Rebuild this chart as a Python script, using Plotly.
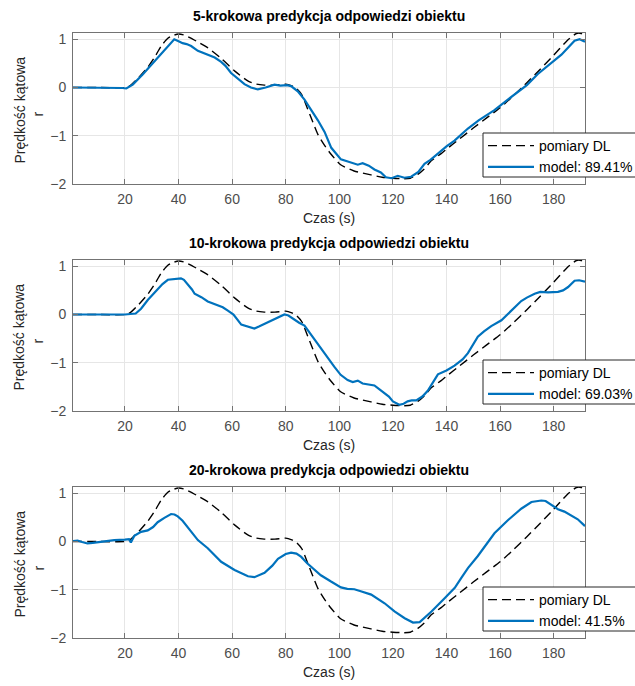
import plotly.graph_objects as go

# ---------------- data ----------------
t_meas = [0.6, 10, 20, 22, 25, 28.5, 31, 33.5, 36, 38, 40, 42, 44, 47, 51, 56, 61, 66, 69, 72, 76, 80, 82,
          84, 86, 88, 90, 92, 94.5, 97, 100.5, 105.5, 111.8, 116, 120, 124, 126.5, 129.3, 131.5, 134.3, 138,
          140, 145, 150, 155, 160, 165, 170, 175, 180, 185, 188.5, 190.3, 191.7]
y_meas = [0, 0, 0, 0.04, 0.2, 0.42, 0.62, 0.86, 1.02, 1.08, 1.11, 1.09, 1.04, 0.95, 0.82, 0.6, 0.34, 0.13,
          0.07, 0.05, 0.05, 0.07, 0.04, -0.02, -0.15, -0.42, -0.7, -0.97, -1.2, -1.39, -1.6, -1.73, -1.81,
          -1.86, -1.88, -1.89, -1.88, -1.8, -1.7, -1.52, -1.37, -1.28, -1.06, -0.84, -0.63, -0.42, -0.17,
          0.1, 0.38, 0.67, 0.97, 1.12, 1.12, 1.06]

t_m5 = [0.6, 10, 19, 20.5, 22.9, 26.6, 29.5, 32.2, 34.5, 36, 38.4, 40, 41.5, 43, 44.7, 47.2, 50.9, 53.5,
        55.9, 57.5, 59.6, 62, 64.6, 67, 69.6, 72.5, 75.8, 78, 80.5, 82, 84.5, 87, 89.5, 92, 94.5, 97, 100.6,
        103.1, 106.9, 108.7, 111, 113.1, 115.5, 117.4, 119.5, 121.8, 124.3, 126.8, 129.5, 131.8, 134, 136.8,
        140, 143, 148, 152, 154.2, 157.9, 162.9, 167.9, 170, 174.1, 179.1, 182.9, 187.8, 189.7, 191.7]
y_m5 = [0, 0, -0.01, -0.02, 0.06, 0.27, 0.45, 0.61, 0.75, 0.86, 1.0, 0.96, 0.92, 0.90, 0.86, 0.76, 0.68,
        0.62, 0.53, 0.45, 0.30, 0.18, 0.07, 0.0, -0.04, 0.0, 0.06, 0.04, 0.05, 0.03, -0.08, -0.25, -0.46,
        -0.68, -0.92, -1.25, -1.49, -1.53, -1.6, -1.57, -1.62, -1.7, -1.76, -1.86, -1.88, -1.83, -1.87,
        -1.85, -1.75, -1.58, -1.5, -1.37, -1.22, -1.1, -0.85, -0.68, -0.6, -0.47, -0.25, -0.04, 0.05, 0.28,
        0.5, 0.68, 0.97, 1.0, 0.95]

t_m10 = [0.6, 10, 20, 24, 26, 28.5, 30.5, 32.2, 34, 36, 38.4, 40.9, 42, 43.4, 45, 46, 48.5, 50.9, 52.5,
         54.6, 56.5, 58.4, 60.5, 63.4, 65, 68.3, 70, 73.3, 76, 79.5, 81, 83.3, 85, 87, 89.5, 92, 95, 98.1,
         100.5, 103.1, 105, 106.9, 108.7, 110.5, 113.1, 115, 116.8, 118.5, 120, 122.4, 124, 125.5, 127,
         128.7, 131, 133, 136.8, 140, 143, 146, 148, 150, 151.7, 154, 156.7, 160.5, 164.2, 167.9, 170,
         172.9, 175, 177.9, 181.6, 183.5, 185.4, 187.8, 189.5, 191.7]
y_m10 = [0, 0, 0, 0.02, 0.12, 0.3, 0.42, 0.54, 0.63, 0.72, 0.74, 0.75, 0.72, 0.63, 0.52, 0.43, 0.36, 0.27,
         0.24, 0.2, 0.15, 0.08, 0.0, -0.21, -0.24, -0.29, -0.25, -0.16, -0.08, 0.0, -0.02, -0.11, -0.17,
         -0.23, -0.42, -0.63, -0.85, -1.08, -1.25, -1.36, -1.4, -1.37, -1.43, -1.45, -1.47, -1.55, -1.63,
         -1.7, -1.8, -1.87, -1.85, -1.8, -1.78, -1.78, -1.7, -1.58, -1.24, -1.16, -1.06, -0.93, -0.8,
         -0.62, -0.46, -0.35, -0.24, -0.12, 0.08, 0.28, 0.35, 0.43, 0.47, 0.46, 0.47, 0.5, 0.57, 0.70, 0.71,
         0.68]

t_m20 = [0.6, 2.3, 4, 6, 8, 11, 16, 20, 21.5, 22.2, 23.5, 26, 28.5, 30.5, 32.2, 34.7, 37.2, 38.5, 39.7,
         41.5, 43.4, 45.5, 47.2, 50.9, 55.9, 60.9, 65.9, 68.3, 72.1, 75, 77.1, 80, 82, 84, 85.8, 88, 90.8,
         93.1, 96.9, 100.6, 103, 105.6, 108, 111.9, 116.9, 120.6, 124.4, 127.5, 130, 134.4, 139.4, 143.1,
         145.6, 148, 151.7, 155, 157.9, 162.9, 167.9, 171.7, 175.4, 177, 179.1, 181.6, 184, 186.6, 189,
         191.7]
y_m20 = [0.01, 0.02, -0.01, -0.04, -0.03, -0.01, 0.03, 0.04, 0.05, -0.02, 0.12, 0.2, 0.23, 0.3, 0.4, 0.49,
         0.57, 0.56, 0.52, 0.43, 0.3, 0.15, 0.03, -0.14, -0.42, -0.59, -0.72, -0.74, -0.65, -0.5, -0.36,
         -0.26, -0.23, -0.25, -0.32, -0.45, -0.59, -0.70, -0.83, -0.95, -0.98, -0.99, -1.03, -1.10, -1.28,
         -1.45, -1.59, -1.68, -1.67, -1.45, -1.17, -0.96, -0.75, -0.55, -0.3, -0.05, 0.17, 0.44, 0.68, 0.82,
         0.85, 0.84, 0.76, 0.67, 0.62, 0.54, 0.46, 0.32]

titles = ["5-krokowa predykcja odpowiedzi obiektu",
          "10-krokowa predykcja odpowiedzi obiektu",
          "20-krokowa predykcja odpowiedzi obiektu"]
fits = ["89.41%", "69.03%", "41.5%"]
x_ticks = [20, 40, 60, 80, 100, 120, 140, 160, 180]
y_ticks = [-2, -1, 0, 1]
x_label = "Czas (s)"
y_label_1 = "Prędkość kątowa"
y_label_2 = "r"
meas_name = "pomiary DL"

# ---------------- layout geometry (pixels) ----------------
W, H = 635, 686
L, R = 73, 585
panels_px = [(33, 184), (260, 411), (487, 638)]
FONT = "Liberation Sans, Arial, sans-serif"
BLUE = "#0072BD"

def py(p):
    return 1 - p / H

def px(p):
    return (p - L) / (R - L)

fig = go.Figure()
model_t = [t_m5, t_m10, t_m20]
model_y = [y_m5, y_m10, y_m20]
annotations = []
shapes = []
layout = {}
for i in range(3):
    n = "" if i == 0 else str(i + 1)
    xa, ya = "x" + n, "y" + n
    lg = "legend" + n
    fig.add_trace(go.Scatter(x=t_meas, y=y_meas, mode="lines", name=meas_name,
                             line=dict(color="black", width=1.4, dash="9px,5px", shape="spline", smoothing=0.6),
                             xaxis=xa, yaxis=ya, legend=lg, legendgroup="m" + n, hoverinfo="skip"))
    fig.add_trace(go.Scatter(x=model_t[i], y=model_y[i], mode="lines", name="model: " + fits[i],
                             line=dict(color=BLUE, width=2.2),
                             xaxis=xa, yaxis=ya, legend=lg, legendgroup="p" + n, hoverinfo="skip"))
    top, bot = panels_px[i]
    axis_common = dict(showline=True, mirror="ticks", linecolor="#737373", linewidth=1,
                       ticks="inside", ticklen=5, tickcolor="#737373", showgrid=True,
                       gridcolor="#e6e6e6", gridwidth=1, zeroline=False,
                       tickfont=dict(family=FONT, size=14, color="#4d4d4d"))
    layout["xaxis" + n] = dict(axis_common, domain=[0, 1], range=[0.6, 191.7], tickvals=x_ticks,
                               anchor=ya, ticklabelstandoff=2)
    layout["yaxis" + n] = dict(axis_common, domain=[py(bot), py(top)], range=[-2, 1.13],
                               tickvals=y_ticks, anchor=xa, ticklabelstandoff=3)
    # legend box (drawn as shape so it can run past the right edge like the original)
    shapes.append(dict(type="rect", xref="paper", yref="paper", x0=px(483), x1=px(650),
                       y0=py(top + 144), y1=py(top + 100), layer="above",
                       fillcolor="white", line=dict(color="#262626", width=1)))
    layout[lg] = dict(x=px(483), y=py(top + 97), xanchor="left", yanchor="top",
                      bgcolor="rgba(0,0,0,0)", borderwidth=0,
                      font=dict(family=FONT, size=14, color="#000"), itemwidth=46,
                      tracegroupgap=0)
    annotations.append(dict(text="<b>" + titles[i] + "</b>", x=0.5, y=py(top - 17), xref="paper",
                            yref="paper", xanchor="center", yanchor="middle", showarrow=False,
                            font=dict(family=FONT, size=14, color="#000")))
    annotations.append(dict(text=x_label, x=0.5, y=py(bot + 34), xref="paper", yref="paper",
                            xanchor="center", yanchor="middle", showarrow=False,
                            font=dict(family=FONT, size=14, color="#262626")))
    annotations.append(dict(text=y_label_1, x=px(19), y=py((top + bot) / 2 + 2), xref="paper",
                            yref="paper", xanchor="center", yanchor="middle", showarrow=False,
                            textangle=-90, font=dict(family=FONT, size=14, color="#262626")))
    annotations.append(dict(text=y_label_2, x=px(38), y=py((top + bot) / 2 + 6), xref="paper",
                            yref="paper", xanchor="center", yanchor="middle", showarrow=False,
                            textangle=-90, font=dict(family=FONT, size=14, color="#262626")))

fig.update_layout(width=W, height=H, plot_bgcolor="white", paper_bgcolor="white",
                  margin=dict(l=L, r=W - R, t=0, b=0, autoexpand=False),
                  font=dict(family=FONT), annotations=annotations, shapes=shapes, **layout)
fig.write_html("out.html", config={"displayModeBar": False},
               post_script="document.body.style.margin='0';document.body.style.padding='0';")
